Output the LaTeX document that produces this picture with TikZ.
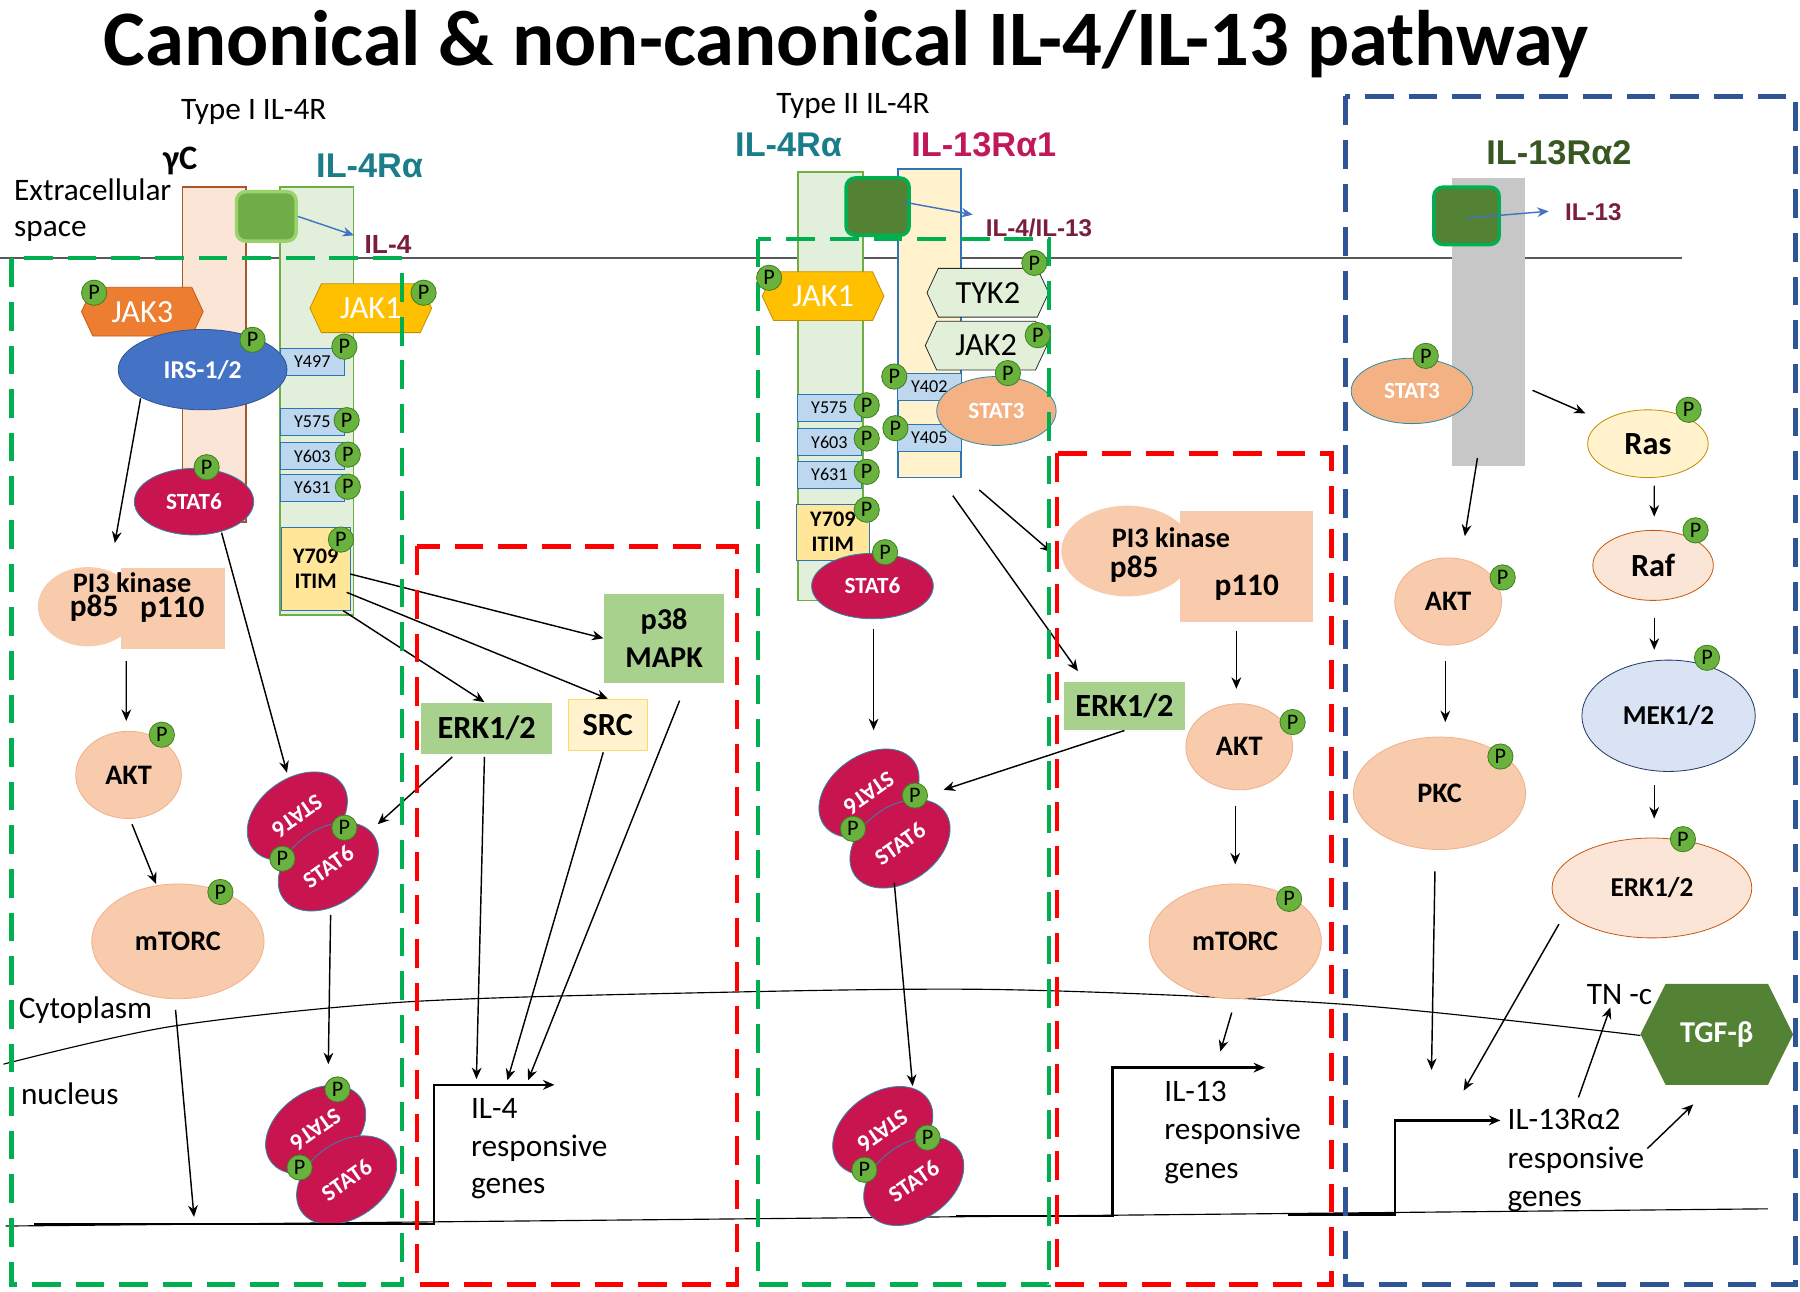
\documentclass[tikz,border=0pt]{standalone}
\usepackage{fontspec}
\setmainfont{Carlito}
\newfontfamily\labfont{Liberation Sans}
\usetikzlibrary{positioning}
\usetikzlibrary{calc}
\usetikzlibrary{shapes.geometric}
\usetikzlibrary{shapes.symbols}
\usetikzlibrary{arrows.meta}

\definecolor{il4teal}{HTML}{1B7D8A}
\definecolor{il13red}{HTML}{C0185A}
\definecolor{il13green}{HTML}{385723}
\definecolor{ligtext}{HTML}{7B1E3E}
\definecolor{pgreen}{HTML}{6AB23E}
\definecolor{pline}{HTML}{3F7F1F}
\definecolor{yblue}{HTML}{2E75B6}
\definecolor{ylight}{HTML}{BDD7EE}
\definecolor{itimfill}{HTML}{FFE699}
\definecolor{stat6red}{HTML}{C8154F}
\definecolor{statline}{HTML}{2C8CA6}
\definecolor{stat3col}{HTML}{F4B183}
\definecolor{peach}{HTML}{F8CBAD}
\definecolor{peachline}{HTML}{F1B089}
\definecolor{gcfill}{HTML}{FBE5D6}
\definecolor{gcline}{HTML}{A5562C}
\definecolor{il4fill}{HTML}{E2EFDA}
\definecolor{il4line}{HTML}{70AD47}
\definecolor{il13fill}{HTML}{FFF2CC}
\definecolor{jak3col}{HTML}{ED7D31}
\definecolor{jak3line}{HTML}{C55A11}
\definecolor{jak1col}{HTML}{FFC000}
\definecolor{jak1line}{HTML}{BF9000}
\definecolor{tykfill}{HTML}{E2F0D9}
\definecolor{tykline}{HTML}{2B2B2B}
\definecolor{erkgreen}{HTML}{A9D18E}
\definecolor{srcline}{HTML}{FFD966}
\definecolor{irsblue}{HTML}{4472C4}
\definecolor{irsline}{HTML}{2F5597}
\definecolor{ligfirst}{HTML}{70AD47}
\definecolor{ligfirstline}{HTML}{9BD36B}
\definecolor{ligdark}{HTML}{548235}
\definecolor{ligdarkline}{HTML}{00B050}
\definecolor{rasline}{HTML}{BF9000}
\definecolor{rafline}{HTML}{C55A11}
\definecolor{mekfill}{HTML}{DAE3F3}
\definecolor{mekline}{HTML}{1F3864}
\definecolor{zonegreen}{HTML}{00B050}
\definecolor{zonered}{HTML}{FF0000}
\definecolor{zoneblue}{HTML}{2F5597}
\definecolor{membgray}{HTML}{595959}

\newcommand{\ptsize}[2]{\fontsize{#1}{#2}\selectfont}

\begin{document}
\begin{tikzpicture}[x=0.2mm,y=-0.2mm,>={Stealth[length=2mm,width=1.7mm]},
                    font=\ptsize{15.5}{18.5}]
	\tikzstyle{phos}=[circle,draw=pline,fill=pgreen,inner sep=0pt,minimum size=4.4mm,font=\ptsize{11}{11}]
	\tikzstyle{ybox}=[rectangle,draw=yblue,fill=ylight,inner sep=0pt,minimum width=11.2mm,minimum height=4.7mm,font=\ptsize{9}{9}]
	\tikzstyle{itimbox}=[rectangle,draw=yblue,fill=itimfill,inner sep=0pt,align=center,font=\bfseries\ptsize{11}{12.5}]
	\tikzstyle{chainbox}=[rectangle,inner sep=0pt,line width=0.3mm]
	\tikzstyle{ligand}=[rectangle,rounded corners=1.6mm,line width=0.6mm,inner sep=0pt]
	\tikzstyle{kin}=[signal,signal to=east and west,signal pointer angle=130,inner sep=0pt,
	                 minimum width=21.2mm,minimum height=8.5mm,font=\ptsize{16}{16}]
	\tikzstyle{stat}=[ellipse,draw=statline,fill=stat6red,text=white,inner sep=0pt,font=\bfseries\ptsize{11.5}{12}]
	\tikzstyle{peachnode}=[ellipse,draw=peachline,fill=peach,inner sep=0pt,font=\bfseries\ptsize{14}{14}]
	\tikzstyle{box}=[rectangle,inner sep=0pt,align=center,font=\bfseries\ptsize{16}{18}]
	\tikzstyle{rlabel}=[inner sep=0pt,font=\labfont\bfseries\ptsize{17}{17}]
	\tikzstyle{llabel}=[inner sep=0pt,text=ligtext,font=\labfont\bfseries\ptsize{12}{12}]
	\tikzstyle{txt}=[inner sep=0pt,align=left]
	\tikzstyle{arr}=[->,line width=0.25mm]
	\tikzstyle{ligarr}=[->,draw=irsblue,line width=0.25mm]
	\tikzstyle{gene}=[->,line width=0.4mm]
	\tikzstyle{zone}=[dash pattern=on 5mm off 2.6mm,line width=0.75mm]

	\useasboundingbox (0,0) rectangle (1568,1125);
	\fill[white] (0,0) rectangle (1568,1125);

	% membrane and nucleus
	\draw[membgray,line width=0.3mm] (0,225) -- (1465,225);
	\draw[line width=0.2mm] plot[smooth] coordinates {(3,927) (150,894) (350,873) (600,865) (871,862) (1173,875) (1429,902)};
	\draw[line width=0.2mm] (5,1068) -- (1540,1053);

	% receptor chains
	\node[chainbox,fill=gcfill,draw=gcline,minimum width=11mm,minimum height=58.4mm] (gc) at (186.5,309) {};
	\node[chainbox,fill=il4fill,draw=il4line,minimum width=12.8mm,minimum height=74.6mm] (r4a) at (276,349.5) {};
	\node[chainbox,fill=il4fill,draw=il4line,minimum width=11.4mm,minimum height=74.6mm] (r4b) at (723.5,336.5) {};
	\node[chainbox,fill=il13fill,draw=yblue,minimum width=11mm,minimum height=53.8mm] (r13) at (809.5,281.5) {};
	\node[chainbox,fill=black!22,minimum width=12.6mm,minimum height=50.2mm] (r13b) at (1296.5,280.5) {};

	\node[ligand,fill=ligfirst,draw=ligfirstline,minimum width=10.4mm,minimum height=8.6mm] (lig1) at (232,188.5) {};
	\node[ligand,fill=ligdark,draw=ligdarkline,minimum width=11mm,minimum height=10mm] (lig2) at (764.5,180) {};
	\node[ligand,fill=ligdark,draw=ligdarkline,minimum width=11.4mm,minimum height=10mm] (lig3) at (1277.5,188) {};

	\foreach \nm/\yx/\yy/\yt in {ya/272/315/Y497,yb/272/367.5/Y575,yc/272/397.5/Y603,yd/272/425/Y631,
	                             ye/722.5/355/Y575,yf/722.5/385/Y603,yg/722.5/413.5/Y631,
	                             yh/809.5/337/Y402,yi/809.5/381.5/Y405}
		\node[ybox] (\nm) at (\yx,\yy) {\yt};
	\node[itimbox,minimum width=12mm,minimum height=14.6mm] (itim1) at (275,495.5) {Y709\\ITIM};
	\node[itimbox,minimum width=12.6mm,minimum height=9.8mm] (itim2) at (725.5,463.5) {Y709\\ITIM};

	% kinases
	\node[kin,fill=jak3col,draw=jak3line,text=white] (jak3) at (124,271.5) {JAK3};
	\node[kin,fill=jak1col,draw=jak1line,text=white] (jak1a) at (323,268.5) {JAK1};
	\node[kin,fill=jak1col,draw=jak1line,text=white] (jak1b) at (717,258) {JAK1};
	\node[kin,fill=tykfill,draw=tykline] (tyk2) at (860.5,255) {TYK2};
	\node[kin,fill=tykfill,draw=tykline] (jak2) at (859,301) {JAK2};

	\node[ellipse,fill=irsblue,draw=irsline,text=white,inner sep=0pt,font=\bfseries\ptsize{12.7}{13},
	      minimum width=29.4mm,minimum height=14mm] (irs) at (176.5,322) {IRS-1/2};
	\node[stat,minimum width=20.8mm,minimum height=11.6mm] (stat6a) at (169,437) {STAT6};
	\node[stat,minimum width=21.2mm,minimum height=11.4mm] (stat6b) at (760,510.5) {STAT6};
	\node[stat,fill=stat3col,minimum width=20.8mm,minimum height=12mm] (stat3a) at (868,358) {STAT3};
	\node[stat,fill=stat3col,minimum width=21.2mm,minimum height=11.4mm] (stat3b) at (1230,340.5) {STAT3};

	% PI3 kinase
	\node[ellipse,fill=peach,inner sep=0pt,minimum width=17.4mm,minimum height=13.8mm] (pkA) at (76.5,528.5) {};
	\node[rectangle,fill=peach,inner sep=0pt,minimum width=18.2mm,minimum height=14mm] (pkB) at (150.5,530) {};
	\node[inner sep=0pt,anchor=base,font=\bfseries\ptsize{14}{14}] (pkAt) at (115,516) {PI3 kinase};
	\node[inner sep=0pt,anchor=base,font=\bfseries\ptsize{15.5}{15.5}] (pkAs) at (82,537) {p85};
	\node[inner sep=0pt,anchor=base,font=\bfseries\ptsize{15.5}{15.5}] (pkBs) at (150,538) {p110};
	\node[ellipse,fill=peach,inner sep=0pt,minimum width=23mm,minimum height=15.8mm] (pkC) at (982,480) {};
	\node[rectangle,fill=peach,inner sep=0pt,minimum width=23.2mm,minimum height=19.4mm] (pkD) at (1086,493.5) {};
	\node[inner sep=0pt,anchor=base,font=\bfseries\ptsize{14}{14}] (pkCt) at (1020,477) {PI3 kinase};
	\node[inner sep=0pt,anchor=base,font=\bfseries\ptsize{15.5}{15.5}] (pkCs) at (988,503) {p85};
	\node[inner sep=0pt,anchor=base,font=\bfseries\ptsize{15.5}{15.5}] (pkDs) at (1086,519) {p110};

	\node[peachnode,minimum width=18.4mm,minimum height=15.2mm] (akt1) at (112,675) {AKT};
	\node[peachnode,minimum width=30mm,minimum height=20mm] (mtor1) at (155,820) {mTORC};
	\node[peachnode,minimum width=18.6mm,minimum height=15mm] (akt2) at (1079.5,650.5) {AKT};
	\node[peachnode,minimum width=30mm,minimum height=20mm] (mtor2) at (1076,820) {mTORC};
	\node[peachnode,minimum width=18.6mm,minimum height=15.2mm] (akt3) at (1261.5,524) {AKT};
	\node[peachnode,minimum width=30mm,minimum height=19.6mm] (pkc) at (1254,691) {PKC};
	\node[peachnode,fill=il13fill,draw=rasline,font=\bfseries\ptsize{16}{16},minimum width=21mm,minimum height=11.8mm] (ras) at (1435.5,386.5) {Ras};
	\node[peachnode,fill=gcfill,draw=rafline,font=\bfseries\ptsize{16}{16},minimum width=21mm,minimum height=12.2mm] (raf) at (1440,492.5) {Raf};
	\node[peachnode,fill=mekfill,draw=mekline,font=\bfseries\ptsize{13.5}{14},minimum width=30.2mm,minimum height=19.4mm] (mek) at (1453.5,623.5) {MEK1/2};
	\node[peachnode,fill=gcfill,draw=rafline,font=\bfseries\ptsize{13.5}{14},minimum width=34.8mm,minimum height=17.4mm] (erk3) at (1439,773.5) {ERK1/2};
	\node[kin,signal pointer angle=127,fill=ligdark,text=white,font=\bfseries\ptsize{15}{15},
	      minimum width=26.6mm,minimum height=17.6mm] (tgf) at (1495.5,901) {TGF-β};

	\node[box,fill=erkgreen,minimum width=21mm,minimum height=15.6mm,font=\bfseries\ptsize{15}{19}] (p38) at (578.5,556) {p38\\MAPK};
	\node[box,fill=erkgreen,minimum width=22.8mm,minimum height=9mm] (erk1) at (424,634.5) {ERK1/2};
	\node[box,fill=il13fill,draw=srcline,minimum width=13.8mm,minimum height=9mm] (src) at (529.5,631.5) {SRC};
	\node[box,fill=erkgreen,minimum width=21mm,minimum height=8.4mm] (erk2) at (979.5,615) {ERK1/2};

	% STAT6 dimers
	\foreach \nm/\dx/\dy in {dA/259/711,dB/275/984,dC/757/691,dD/769/985}{
		\node[stat,rotate=215,minimum width=19.2mm,minimum height=13.2mm] (\nm-u) at (\dx,\dy) {STAT6};
		\node[stat,rotate=35,minimum width=19.2mm,minimum height=13.2mm] (\nm-l) at ($(\dx,\dy)+(27,44)$) {STAT6};
	}

	% texts
	\node[inner sep=0pt,anchor=base,font=\bfseries\ptsize{39}{44}] (title) at (737,57) {Canonical \& non-canonical IL-4/IL-13 pathway};
	\node[txt,anchor=base] (type1) at (221,104) {Type I IL-4R};
	\node[txt,anchor=base] (type2) at (743,99) {Type II IL-4R};
	\node[txt,anchor=north west,font=\ptsize{15.5}{18.1}] (extra) at (12,155) {Extracellular\\space};
	\node[inner sep=0pt,anchor=base,font=\bfseries\ptsize{17}{17}] (gcl) at (157,148) {γC};
	\node[rlabel,text=il4teal,anchor=base] (r4al) at (322,155) {IL-4Rα};
	\node[rlabel,text=il4teal,anchor=base] (r4bl) at (687,136) {IL-4Rα};
	\node[rlabel,text=il13red,anchor=base] (r13l) at (857,136) {IL-13Rα1};
	\node[rlabel,text=il13green,anchor=base] (r13bl) at (1358,143) {IL-13Rα2};
	\node[llabel,anchor=base,font=\labfont\bfseries\ptsize{13}{13}] (il4l) at (338,221) {IL-4};
	\node[llabel,anchor=base] (il413l) at (905,206) {IL-4/IL-13};
	\node[llabel,anchor=base] (il13l) at (1388,192) {IL-13};
	\node[txt,anchor=base west] (cyto) at (16,887) {Cytoplasm};
	\node[txt,anchor=base west] (nucl) at (18,962) {nucleus};
	\node[txt,anchor=north west,font=\ptsize{15.5}{18.7}] (g1) at (410,956.5) {IL-4\\responsive\\genes};
	\node[txt,anchor=north west,font=\ptsize{15.5}{19}] (g2) at (1014,941.5) {IL-13\\responsive\\genes};
	\node[txt,anchor=north west,font=\ptsize{15.5}{19.3}] (g3) at (1313,965.5) {IL-13Rα2\\responsive\\genes};
	\node[txt,anchor=base west] (tnc) at (1382,875) {TN -c};

	% gene starts
	\coordinate (tss1) at (378,945);
	\coordinate (tss2) at (969,930);
	\coordinate (tss3) at (1215,976);
	\coordinate (nl1) at (169,1060);
	\draw[gene] (30,1066) -| (tss1) -- ($(tss1)+(105,0)$);
	\draw[gene] (833,1059) -| (tss2) -- ($(tss2)+(133,0)$);
	\draw[gene] (1122,1058) -| (tss3) -- ($(tss3)+(92,0)$);

	% ligand binding
	\draw[ligarr] (lig1.east) -- ($(il4l.base west)+(-9,-16)$);
	\draw[ligarr] ($(lig2)+(22.5,-4)$) -- ($(il413l.base west)+(-11,-19)$);
	\draw[ligarr] ($(lig3)+(-0.5,2)$) -- ($(il13l.base west)+(-14,-8)$);

	% type I signalling
	\draw[arr] ($(irs)+(-54,25)$) -- ($(pkA)+(23.5,-55.5)$);
	\draw[arr] ($(pkA)+(33.5,47.5)$) -- ($(akt1)+(-2,-47)$);
	\draw[arr] ($(akt1)+(3,43)$) -- ($(mtor1)+(-19,-50)$);
	\draw[arr] ($(stat6a)+(24,27)$) -- ($(dA-u)+(-9,-38)$);
	\draw[arr] ($(dA-l)+(2,42)$) -- ($(dB-u)+(11,-57)$);
	\draw[arr] ($(itim1)+(30,4.5)$) -- (p38.west);
	\draw[arr] ($(itim1)+(27,20.5)$) -- (src.north);
	\draw[arr] ($(itim1)+(24,36.5)$) -- ($(erk1.north)+(-2,0)$);
	\draw[arr] ($(erk1.south)+(-30,2)$) -- ($(dA-l)+(43,-37)$);
	\draw[arr] ($(erk1.south)+(-2,2)$) -- ($(tss1)+(37,-5)$);
	\draw[arr] ($(src.south)+(-4,1)$) -- ($(tss1)+(64,-4)$);
	\draw[arr] ($(p38.south)+(13.5,15)$) -- ($(tss1)+(82,-4)$);
	\draw[arr] ($(cyto.east)+(20,0)$) -- (nl1);

	% type II signalling
	\draw[arr] ($(r13.south)+(43.5,10)$) -- ($(pkC)+(-66,1)$);
	\draw[arr] ($(r13.south)+(20.5,15)$) -- ($(erk2.north)+(-40.5,-9)$);
	\draw[arr] ($(stat6b)+(1,37)$) -- ($(dC-u)+(4,-55)$);
	\draw[arr] (erk2.south) -- ($(dC-l)+(38,-47)$);
	\draw[arr] ($(dC-l)+(-5,34)$) -- ($(dD-u)+(26,-39)$);
	\draw[arr] ($(pkD.south)+(-9,7)$) -- ($(akt2)+(-2.5,-50.5)$);
	\draw[arr] ($(akt2)+(-3.5,51.5)$) -- ($(mtor2)+(0,-67)$);
	\draw[arr] ($(mtor2)+(-3,62)$) -- ($(tss2)+(94,-14)$);

	% IL-13Ra2 signalling
	\draw[arr] ($(r13b)+(38.5,59.5)$) -- ($(ras)+(-54.5,-26.5)$);
	\draw[arr] ($(ras)+(5.5,36.5)$) -- ($(raf)+(1,-42.5)$);
	\draw[arr] ($(raf)+(1,45.5)$) -- ($(mek)+(-12.5,-57.5)$);
	\draw[arr] ($(mek)+(-12.5,60.5)$) -- ($(erk3)+(2,-60.5)$);
	\draw[arr] ($(r13b)+(-9.5,118.5)$) -- ($(akt3)+(14.5,-57)$);
	\draw[arr] ($(akt3)+(-2.5,52)$) -- ($(pkc)+(5,-62)$);
	\draw[arr] ($(pkc)+(-4,68)$) -- ($(tss3)+(32,-44)$);
	\draw[arr] ($(erk3)+(-81,31.5)$) -- ($(tss3)+(60,-26)$);
	\draw[arr] ($(g3.north west)+(62,-9.5)$) -- ($(tnc.south)+(-8,2)$);
	\draw[arr] ($(g3.north west)+(122,35)$) -- ($(tgf)+(-20.5,61)$);

	% boxes
	\draw[zone,zonegreen] (10,225) rectangle (350,1119);
	\draw[zone,zonered] (363,476) rectangle (642,1119);
	\draw[zone,zonegreen] (660,208) rectangle (914,1119);
	\draw[zone,zonered] (921,395) rectangle (1160,1119);
	\draw[zone,zoneblue] (1172,84) rectangle (1564,1119);

	% phosphates
	\foreach \px/\py [count=\k] in {82/255,369/255,220/296,300/302,302/366,303/396,303/424,297/470,180/407,141/640,192/777,
	                               300/721,246/748,294/949,261/1017,
	                               670/242,901/229,904/292,779/328,878/325,780/373,755/353,755/382,755/411,755/444,771/481,1126/629,1123/783,
	                               797/693,743/722,808/991,753/1019,
	                               1242/310,1471/357,1477/462,1487/573,1466/731,1309/503,1307/659}
		\node[phos] (P\k) at (\px,\py) {P};
\end{tikzpicture}
\end{document}
